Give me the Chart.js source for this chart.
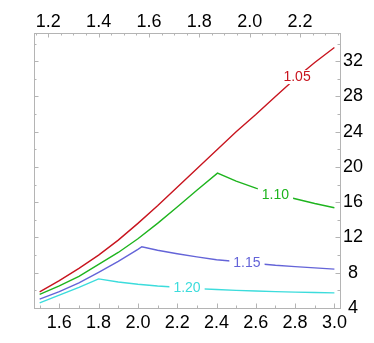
<!DOCTYPE html>
<html><head><meta charset="utf-8">
<script src="https://cdn.jsdelivr.net/npm/chart.js@4.4.0/dist/chart.umd.min.js"></script>
<style>html,body{margin:0;padding:0;background:#fff;}#wrap{width:374px;height:343px;}</style>
</head><body><div id="wrap"><canvas id="c" width="374" height="343"></canvas></div>
<script>
// ---- data ----
const xRed   = [1.5, 1.6, 1.7, 1.8, 1.9, 2.0, 2.1, 2.2, 2.3, 2.4, 2.5, 2.6, 2.7, 2.8, 2.9, 3.0];
const yRed   = [5.84, 7.1, 8.5, 10.0, 11.7, 13.6, 15.6, 17.7, 19.8, 21.9, 24.0, 25.95, 28.0, 30.0, 31.85, 33.55];
const xGreen = [1.5, 1.6, 1.7, 1.8, 1.9, 2.0, 2.1, 2.2, 2.3, 2.405, 2.5, 2.6, 2.7, 2.8, 2.9, 3.0];
const yGreen = [5.54, 6.5, 7.6, 8.95, 10.3, 11.85, 13.6, 15.45, 17.35, 19.3, 18.4, 17.6, 16.95, 16.4, 15.85, 15.37];
const xBlue  = [1.5, 1.6, 1.7, 1.8, 1.9, 2.0, 2.02, 2.1, 2.2, 2.3, 2.4, 2.5, 2.6, 2.7, 2.8, 2.9, 3.0];
const yBlue  = [5.0, 5.85, 6.85, 8.05, 9.3, 10.65, 10.95, 10.55, 10.15, 9.8, 9.48, 9.27, 9.05, 8.85, 8.7, 8.55, 8.41];
const xCyan  = [1.5, 1.6, 1.7, 1.8, 1.9, 2.0, 2.1, 2.2, 2.3, 2.4, 2.5, 2.6, 2.7, 2.8, 2.9, 3.0];
const yCyan  = [4.59, 5.45, 6.33, 7.3, 6.95, 6.7, 6.5, 6.35, 6.2, 6.1, 6.0, 5.93, 5.86, 5.8, 5.76, 5.72];

const contourNames = ['1.05', '1.10', '1.15', '1.20'];
const contourLabelX = [2.81, 2.70, 2.555, 2.25];
const contourLabelY = [30.2, 16.9, 9.15, 6.3];

const bottomTickValues = [1.5, 1.6, 1.7, 1.8, 1.9, 2.0, 2.1, 2.2, 2.3, 2.4, 2.5, 2.6, 2.7, 2.8, 2.9, 3.0];
const bottomTickLabels = ['1.6', '1.8', '2.0', '2.2', '2.4', '2.6', '2.8', '3.0'];
const topTickValues = [1.15, 1.2, 1.25, 1.3, 1.35, 1.4, 1.45, 1.5, 1.55, 1.6, 1.65, 1.7, 1.75, 1.8, 1.85, 1.9, 1.95, 2.0, 2.05, 2.1, 2.15, 2.2, 2.25, 2.3, 2.35];
const topTickLabels = ['1.2', '1.4', '1.6', '1.8', '2.0', '2.2'];
const sideTickValues = [4, 6, 8, 10, 12, 14, 16, 18, 20, 22, 24, 26, 28, 30, 32, 34];
const rightTickLabels = ['4', '8', '12', '16', '20', '24', '28', '32'];

// ---- styles ----
const colors = ['#c8141e', '#1eb41e', '#6464d8', '#3cdcdc'];
const frameColor = '#b4b4b4';
const tickFont = {family: "'Liberation Sans', Arial, sans-serif", size: 18};

const series = [[xRed, yRed], [xGreen, yGreen], [xBlue, yBlue], [xCyan, yCyan]];
const datasets = series.map((s, i) => ({
  label: contourNames[i],
  data: s[0].map((x, j) => ({x: x, y: s[1][j]})),
  borderColor: colors[i],
  borderWidth: 1.4,
  pointRadius: 0,
  tension: 0,
  fill: false
}));

function setTicks(values) {
  return function (scale) { scale.ticks = values.map(v => ({value: v})); };
}
function findLabel(list, v) {
  const hit = list.find(s => Math.abs(Number(s) - v) < 1e-6);
  return hit === undefined ? '' : hit;
}
function labelFrom(list) {
  return function (v) { return findLabel(list, Number(v)); };
}

const inwardTicks = {
  id: 'inwardTicks',
  afterDraw(chart) {
    const ctx = chart.ctx, a = chart.chartArea;
    ctx.save();
    ctx.strokeStyle = frameColor;
    ctx.lineWidth = 1;
    const defs = [
      ['x', 'bottom', v => findLabel(bottomTickLabels, v) !== ''],
      ['x2', 'top', v => findLabel(topTickLabels, v) !== ''],
      ['y', 'left', v => v % 4 === 0],
      ['y2', 'right', v => v % 4 === 0]
    ];
    defs.forEach(([id, side, isMajor]) => {
      const sc = chart.scales[id];
      sc.ticks.forEach(t => {
        const p = Math.round(sc.getPixelForValue(t.value)) + 0.5;
        const len = isMajor(t.value) ? 4.5 : 2.5;
        ctx.beginPath();
        if (side === 'bottom') { if (p < a.left || p > a.right) return; ctx.moveTo(p, a.bottom); ctx.lineTo(p, a.bottom - len); }
        if (side === 'top') { if (p < a.left || p > a.right) return; ctx.moveTo(p, a.top); ctx.lineTo(p, a.top + len); }
        if (side === 'left') { if (p < a.top || p > a.bottom) return; ctx.moveTo(a.left, p); ctx.lineTo(a.left + len, p); }
        if (side === 'right') { if (p < a.top || p > a.bottom) return; ctx.moveTo(a.right, p); ctx.lineTo(a.right - len, p); }
        ctx.stroke();
      });
    });
    ctx.restore();
  }
};

const contourLabels = {
  id: 'contourLabels',
  afterDatasetsDraw(chart) {
    const ctx = chart.ctx, xs = chart.scales.x, ys = chart.scales.y;
    ctx.save();
    ctx.font = "14px 'Liberation Sans', Arial, sans-serif";
    ctx.textAlign = 'center';
    ctx.textBaseline = 'middle';
    contourNames.forEach((name, i) => {
      const px = xs.getPixelForValue(contourLabelX[i]);
      const py = ys.getPixelForValue(contourLabelY[i]);
      const w = ctx.measureText(name).width;
      ctx.fillStyle = '#ffffff';
      ctx.fillRect(px - w / 2 - 4, py - 7, w + 8, 14);
      ctx.fillStyle = colors[i];
      ctx.fillText(name, px, py + 0.5);
    });
    ctx.restore();
  }
};

new Chart(document.getElementById('c'), {
  type: 'line',
  data: {datasets: datasets},
  options: {
    responsive: false,
    animation: false,
    devicePixelRatio: 1,
    layout: {padding: 0},
    plugins: {legend: {display: false}, tooltip: {enabled: false}},
    scales: {
      x: {
        type: 'linear', position: 'bottom', min: 1.4712, max: 3.0285,
        afterBuildTicks: setTicks(bottomTickValues),
        afterFit: s => { s.height = 35; },
        ticks: {autoSkip: false, maxRotation: 0, callback: labelFrom(bottomTickLabels), font: tickFont, color: '#000', padding: 4},
        grid: {drawOnChartArea: false, drawTicks: false},
        border: {display: true, color: frameColor, width: 1}
      },
      x2: {
        type: 'linear', position: 'top', min: 1.1432, max: 2.359,
        afterBuildTicks: setTicks(topTickValues),
        afterFit: s => { s.height = 33; },
        ticks: {autoSkip: false, maxRotation: 0, callback: labelFrom(topTickLabels), font: tickFont, color: '#000', padding: 0},
        grid: {drawOnChartArea: false, drawTicks: false},
        border: {display: true, color: frameColor, width: 1}
      },
      y: {
        type: 'linear', position: 'left', min: 4, max: 35.2,
        afterBuildTicks: setTicks(sideTickValues),
        afterFit: s => { s.width = 34; },
        ticks: {display: false},
        grid: {drawOnChartArea: false, drawTicks: false},
        border: {display: true, color: frameColor, width: 1}
      },
      y2: {
        type: 'linear', position: 'right', min: 4, max: 35.2,
        afterBuildTicks: setTicks(sideTickValues),
        afterFit: s => { s.width = 34; },
        ticks: {autoSkip: false, crossAlign: 'center', callback: labelFrom(rightTickLabels), font: tickFont, color: '#000', padding: 3},
        grid: {drawOnChartArea: false, drawTicks: false},
        border: {display: true, color: frameColor, width: 1}
      }
    }
  },
  plugins: [inwardTicks, contourLabels]
});
</script>
</body></html>
